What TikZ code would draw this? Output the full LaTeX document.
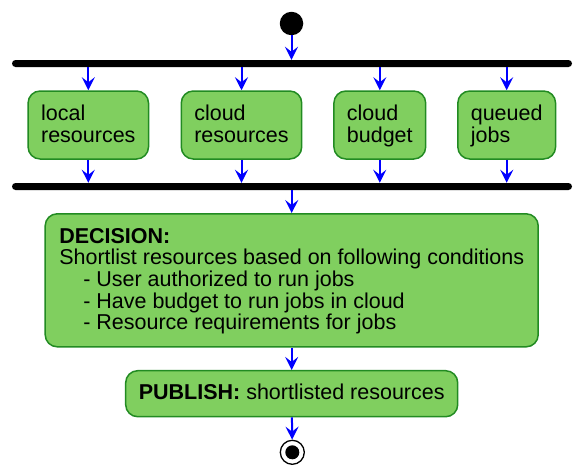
\documentclass[tikz,border=0pt]{standalone}
\usepackage{fontspec}
\setmainfont{Liberation Sans}
\usetikzlibrary{positioning}
\usetikzlibrary{arrows.meta}
\definecolor{actfill}{HTML}{80CF5F}
\definecolor{actline}{HTML}{228B22}
\newcommand\actstrut{\rule[-4.7pt]{0pt}{21.7pt}}

\begin{document}
\begin{tikzpicture}[x=1pt,y=-1pt,
 act/.style={draw=actline,fill=actfill,line width=1.5pt,rounded corners=12pt,
  align=left,inner xsep=13pt,font=\fontsize{21.5}{21.7}\selectfont},
 flow/.style={draw=blue,line width=2pt,-{Stealth[length=13pt,width=13pt,inset=5pt]}},
 bar/.style={fill=black,rounded corners=3.5pt,inner sep=0pt,minimum height=7pt,minimum width=560pt}]
 \useasboundingbox (0,0) rectangle (573,466);
 % start and forks
 \node[circle,fill=black,inner sep=0pt,minimum size=23.5pt] (start) at (291.5,23.5) {};
 \node[bar] (fork) at (292,63.5) {};
 \node[bar] (join) at (292,186.5) {};
 % parallel inputs
 \node[act,minimum height=68pt,minimum width=120pt] (local) at (88.3,125) {\actstrut local\\\actstrut resources};
 \node[act,minimum height=68pt,minimum width=119pt] (cloudres) at (241.5,125) {\actstrut cloud\\\actstrut resources};
 \node[act,minimum height=68pt,minimum width=91pt] (budget) at (379.8,125) {\actstrut cloud\\\actstrut budget};
 \node[act,minimum height=68pt,minimum width=97pt] (jobs) at (506.7,125) {\actstrut queued\\\actstrut jobs};
 % decision and publish
 \node[act,minimum height=133pt,minimum width=493pt] (decision) at (291.7,280.3)
  {\actstrut\textbf{DECISION:}\\
   \actstrut Shortlist resources based on following conditions\\
   \actstrut\hspace*{24pt}- User authorized to run jobs\\
   \actstrut\hspace*{24pt}- Have budget to run jobs in cloud\\
   \actstrut\hspace*{24pt}- Resource requirements for jobs};
 \node[act,minimum height=46pt,minimum width=332pt] (publish) at (291.7,393.7)
  {\actstrut\textbf{PUBLISH:} shortlisted resources};
 % end
 \node[circle,draw=black,line width=1.3pt,inner sep=0pt,minimum size=24pt] (stop) at (292.3,452.3) {};
 \fill (stop) circle (7pt);
 % flows
 \draw[flow] (start) -- (start |- fork.north);
 \foreach \n in {local,cloudres,budget,jobs}{
  \draw[flow] (fork.south -| \n) -- (\n);
  \draw[flow] (\n) -- (\n |- join.north);
 }
 \draw[flow] (join.south -| decision) -- (decision);
 \draw[flow] (decision) -- (publish);
 \draw[flow] (publish) -- (stop);
\end{tikzpicture}
\end{document}
